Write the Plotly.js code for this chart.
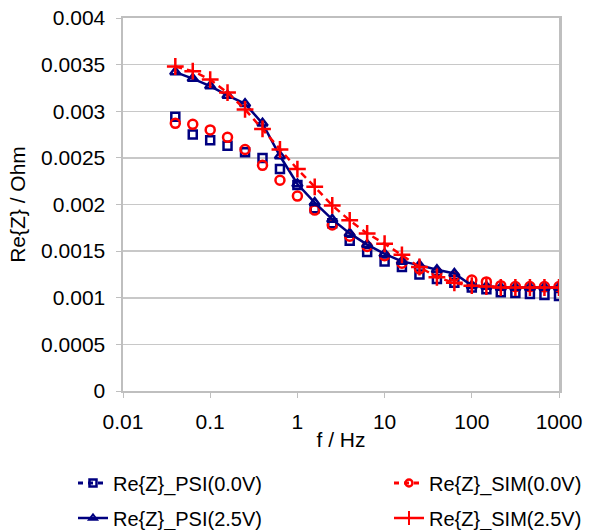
<!DOCTYPE html>
<html>
<head>
<meta charset="utf-8">
<script src="https://cdn.plot.ly/plotly-3.0.1.min.js"></script>
<style>html,body{margin:0;padding:0;background:#fff;}#chart{width:597px;height:530px;}</style>
</head>
<body>
<div id="chart"></div>
<script>
// Frequencies (Hz)
var freq = [0.0398, 0.0631, 0.1, 0.158, 0.251, 0.398, 0.631, 1, 1.58, 2.51, 3.98, 6.31, 10, 15.8, 25.1, 39.8, 63.1, 100, 147, 215, 316, 464, 681, 1000];
// Re{Z} in Ohm
var psi00 = [0.00294, 0.00275, 0.00269, 0.00263, 0.00256, 0.00250, 0.00238, 0.00221, 0.00196, 0.00180, 0.00161, 0.00149, 0.00139, 0.00133, 0.00125, 0.00120, 0.00116, 0.00111, 0.00109, 0.00106, 0.00105, 0.00104, 0.00103, 0.00102];
var sim00 = [0.00287, 0.00286, 0.00280, 0.00272, 0.00259, 0.00242, 0.00226, 0.00209, 0.00194, 0.00178, 0.00166, 0.00155, 0.00145, 0.00137, 0.00131, 0.00127, 0.00123, 0.00119, 0.00117, 0.00113, 0.00112, 0.00112, 0.00112, 0.00112];
var psi25 = [0.00342, 0.00335, 0.00327, 0.00317, 0.00308, 0.00287, 0.00252, 0.00222, 0.00202, 0.00184, 0.00169, 0.00157, 0.00147, 0.00139, 0.00135, 0.00130, 0.00126, 0.00113, 0.00112, 0.00111, 0.00111, 0.00111, 0.00111, 0.00111];
var sim25 = [0.00348, 0.00343, 0.00334, 0.00320, 0.00302, 0.00281, 0.00259, 0.00238, 0.00219, 0.00199, 0.00183, 0.00169, 0.00158, 0.00146, 0.00133, 0.00122, 0.00116, 0.00113, 0.00112, 0.00111, 0.00111, 0.00111, 0.00111, 0.00111];

var seriesNames = ["Re{Z}_PSI(0.0V)", "Re{Z}_SIM(0.0V)", "Re{Z}_PSI(2.5V)", "Re{Z}_SIM(2.5V)"];

var xTickVals = [0.01, 0.1, 1, 10, 100, 1000];
var xTickText = ["0.01", "0.1", "1", "10", "100", "1000"];
var yTickVals = [0, 0.0005, 0.001, 0.0015, 0.002, 0.0025, 0.003, 0.0035, 0.004];
var yTickText = ["0", "0.0005", "0.001", "0.0015", "0.002", "0.0025", "0.003", "0.0035", "0.004"];

var NAVY = "#000080", RED = "#ff0000";
var FONT = "Liberation Sans, Arial, sans-serif";

var traces = [
  // plotted data
  {x: freq, y: psi00, mode: "markers", showlegend: false,
   marker: {symbol: "square-open", size: 8, color: NAVY, line: {width: 2.5, color: NAVY}}},
  {x: freq, y: sim00, mode: "markers", showlegend: false,
   marker: {symbol: "circle-open", size: 9, color: RED, line: {width: 2.5, color: RED}}},
  {x: freq, y: psi25, mode: "lines+markers", showlegend: false,
   line: {color: NAVY, width: 2.5},
   marker: {symbol: "triangle-up-open", size: 9, color: NAVY, line: {width: 2.5, color: NAVY}}},
  {x: freq, y: sim25, mode: "lines+markers", showlegend: false,
   line: {color: RED, width: 2.5, dash: "7px,5px"},
   marker: {symbol: "cross-thin-open", size: 12, color: RED, line: {width: 2.5, color: RED}}},
  // legend entries (one legend box each)
  {x: [null], y: [null], name: seriesNames[0], mode: "lines+markers", legend: "legend",
   line: {color: NAVY, width: 3, dash: "5px,5px"},
   marker: {symbol: "square-open", size: 7, color: NAVY, line: {width: 2.5, color: NAVY}}},
  {x: [null], y: [null], name: seriesNames[1], mode: "lines+markers", legend: "legend2",
   line: {color: RED, width: 3, dash: "5px,5px"},
   marker: {symbol: "circle-open", size: 7, color: RED, line: {width: 2.5, color: RED}}},
  {x: [null], y: [null], name: seriesNames[2], mode: "lines+markers", legend: "legend3",
   line: {color: NAVY, width: 2.5},
   marker: {symbol: "triangle-up-open", size: 7, color: NAVY, line: {width: 2, color: NAVY}}},
  {x: [null], y: [null], name: seriesNames[3], mode: "lines+markers", legend: "legend4",
   line: {color: RED, width: 2.5},
   marker: {symbol: "cross-thin-open", size: 10, color: RED, line: {width: 2, color: RED}}}
];

function legendAt(px, py) {
  return {
    orientation: "h", xref: "container", yref: "container",
    xanchor: "left", yanchor: "middle",
    x: px / 597, y: 1 - py / 530,
    font: {family: FONT, size: 20, color: "#000"},
    bgcolor: "rgba(0,0,0,0)", borderwidth: 0
  };
}

var layout = {
  width: 597, height: 530,
  margin: {l: 123, r: 38, t: 18, b: 139},
  paper_bgcolor: "#fff", plot_bgcolor: "#fff",
  font: {family: FONT, size: 21, color: "#000"},
  showlegend: true,
  legend: legendAt(73, 483),
  legend2: legendAt(389, 483),
  legend3: legendAt(73, 518),
  legend4: legendAt(389, 518),
  xaxis: {
    type: "log", range: [-2, 3],
    tickmode: "array", tickvals: xTickVals, ticktext: xTickText,
    ticks: "outside", ticklen: 5, tickwidth: 1, tickcolor: "#bfbfbf",
    ticklabelstandoff: 6,
    showgrid: false, zeroline: false,
    showline: true, linecolor: "#bfbfbf", linewidth: 2, mirror: true,
    tickfont: {family: FONT, size: 21, color: "#000"},
    title: {text: "f / Hz", font: {family: FONT, size: 21, color: "#000"}, standoff: 0}
  },
  yaxis: {
    range: [0, 0.004],
    tickmode: "array", tickvals: yTickVals, ticktext: yTickText,
    ticks: "outside", ticklen: 5, tickwidth: 1, tickcolor: "#bfbfbf",
    ticklabelstandoff: 6,
    showgrid: true, gridcolor: "#c8c8c8", gridwidth: 1.5, zeroline: false,
    showline: true, linecolor: "#bfbfbf", linewidth: 2.5, mirror: true,
    tickfont: {family: FONT, size: 21, color: "#000"},
    title: {text: "Re{Z} / Ohm", font: {family: FONT, size: 21, color: "#000"}, standoff: 10}
  }
};

Plotly.newPlot("chart", traces, layout, {displayModeBar: false, staticPlot: true});
</script>
</body>
</html>
